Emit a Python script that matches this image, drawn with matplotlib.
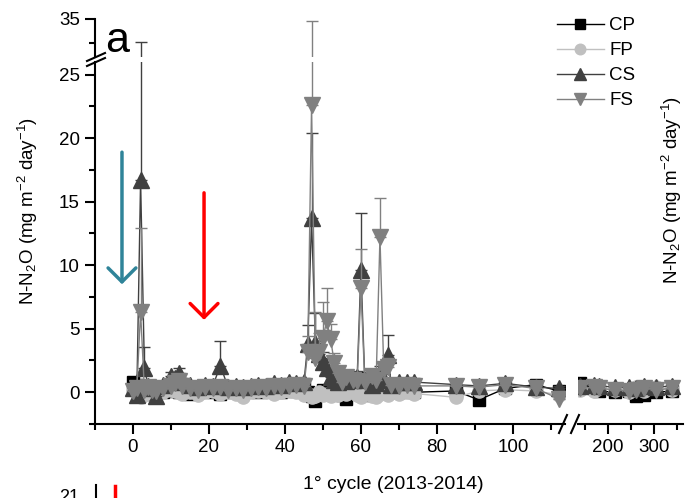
"""
N-N2O flux, 1st cycle (2013-2014): broken x and y axes, four treatments.
"""

import matplotlib

matplotlib.use("Agg")
import matplotlib.pyplot as plt
import numpy as np
from matplotlib.lines import Line2D
from matplotlib.ticker import FixedLocator, MultipleLocator

plt.rcParams["font.family"] = ["Liberation Sans", "DejaVu Sans"]
plt.rcParams["mathtext.fontset"] = "custom"
plt.rcParams["mathtext.rm"] = "Liberation Sans"
plt.rcParams["mathtext.it"] = "Liberation Sans:italic"

# days of the cycle
days = [0, 1, 2, 3, 4, 5, 6, 8, 10, 11,
        12, 13, 15, 17, 19, 21, 23, 25, 27, 29,
        31, 33, 35, 37, 39, 41, 43, 45, 46, 47,
        48, 49, 50, 51, 52, 53, 54, 55, 56, 58,
        59, 60, 61, 63, 64, 65, 66, 67, 68, 70,
        72, 74, 85, 91, 98, 106, 112,
        140, 170, 180, 215, 245, 262, 278, 305, 340]

cp = [0.8, 0.6, 0.2, 0.1, 0.0, -0.1, 0.1, 0.0, 0.2, 0.1,
      0.0, 0.1, -0.1, 0.0, 0.1, 0.0, -0.1, 0.0, 0.1, 0.0,
      0.1, 0.0, 0.2, 0.1, 0.0, 0.2, 0.1, 0.3, 0.0, -0.3,
      -0.7, -0.1, 0.2, 0.0, 0.1, 0.0, 0.2, -0.2, -0.5, 0.3,
      1.1, 0.9, 0.3, -0.2, 0.1, 0.0, 0.2, 0.1, 0.2, 0.0,
      0.1, 0.0, 0.1, -0.6, 0.3, 0.6, 0.1,
      0.7, 0.3, 0.1, 0.0, 0.1, -0.3, -0.2, 0.0, 0.1]
cp_err = [0.2, 0.2, 0.2, 0.1, 0.1, 0.1, 0.1, 0.1, 0.1, 0.1,
          0.1, 0.1, 0.1, 0.1, 0.1, 0.1, 0.1, 0.1, 0.1, 0.1,
          0.1, 0.1, 0.1, 0.1, 0.1, 0.1, 0.1, 0.2, 0.2, 0.2,
          0.2, 0.2, 0.2, 0.2, 0.2, 0.2, 0.2, 0.2, 0.2, 0.2,
          0.3, 0.3, 0.2, 0.2, 0.2, 0.2, 0.2, 0.2, 0.2, 0.2,
          0.2, 0.2, 0.2, 0.2, 0.2, 0.2, 0.2,
          0.2, 0.2, 0.2, 0.2, 0.2, 0.2, 0.2, 0.2, 0.2]

fp = [0.2, 0.0, -0.4, -0.2, 0.0, 0.1, -0.1, 0.0, 0.2, 0.1,
      0.0, -0.1, 0.0, -0.2, 0.0, 0.1, -0.1, 0.0, -0.1, -0.4,
      0.0, 0.1, 0.0, -0.1, 0.0, 0.1, 0.0, -0.2, -0.1, -0.4,
      -0.3, 0.0, -0.2, -0.1, -0.3, 0.0, -0.2, 0.0, -0.1, 0.1,
      -0.2, -0.4, 0.0, -0.3, -0.4, -0.1, 0.0, -0.2, 0.0, -0.1,
      0.0, -0.1, -0.4, 0.1, 0.2, 0.1, -0.2,
      0.2, 0.1, 0.3, 0.2, 0.0, 0.4, 0.1, 0.4, 0.2]
fp_err = [0.1] * 57 + [0.2] * 9

cs = [0.3, -0.2, 16.7, 1.9, 0.5, 0.3, -0.3, 0.6, 1.3, 1.1,
      1.5, 0.8, 0.6, 0.4, 0.6, 0.5, 2.1, 0.4, 0.5, 0.4,
      0.5, 0.6, 0.5, 0.7, 0.6, 0.8, 0.7, 0.8, 3.8, 13.7,
      3.9, 3.0, 2.4, 1.9, 1.2, 1.0, 0.8, 1.2, 0.9, 1.0,
      1.2, 9.6, 1.0, 0.6, 0.7, 1.6, 1.0, 2.9, 0.6, 0.8,
      0.8, 0.8, 0.6, 0.5, 0.7, 0.4, 0.3,
      0.5, 0.6, 0.5, 0.4, 0.4, 0.3, 0.5, 0.4, 0.5]
cs_err = [0.2, 0.2, 13.5, 1.7, 0.2, 0.2, 0.2, 0.2, 0.3, 0.3,
          0.4, 0.3, 0.2, 0.2, 0.2, 0.2, 1.9, 0.2, 0.2, 0.2,
          0.2, 0.2, 0.2, 0.2, 0.2, 0.3, 0.3, 0.3, 1.5, 6.7,
          2.3, 1.0, 0.8, 0.8, 0.5, 0.4, 0.4, 0.5, 0.4, 0.4,
          0.5, 4.5, 0.4, 0.3, 0.3, 0.5, 0.4, 1.6, 0.3, 0.3,
          0.3, 0.3, 0.3, 0.2, 0.3, 0.2, 0.2,
          0.2, 0.2, 0.2, 0.2, 0.2, 0.2, 0.2, 0.2, 0.2]

fs = [0.1, 0.3, 6.3, 0.2, 0.4, 0.2, 0.1, 0.3, 0.5, 0.7,
      0.9, 0.5, 0.3, 0.2, 0.4, 0.3, 0.4, 0.2, 0.3, 0.2,
      0.3, 0.4, 0.3, 0.5, 0.4, 0.5, 0.6, 0.5, 3.2, 22.6,
      2.7, 3.2, 4.3, 5.6, 4.2, 2.3, 1.5, 0.8, 1.2, 1.0,
      0.9, 8.2, 0.8, 1.3, 1.0, 12.2, 1.8, 2.0, 0.6, 0.5,
      0.6, 0.5, 0.5, 0.4, 0.6, 0.3, -0.5,
      0.3, 0.4, 0.3, 0.2, 0.1, 0.2, 0.3, 0.2, 0.3]
fs_err = [0.2, 0.2, 6.6, 0.2, 0.2, 0.2, 0.2, 0.2, 0.3, 0.3,
          0.4, 0.3, 0.2, 0.2, 0.2, 0.2, 0.2, 0.2, 0.2, 0.2,
          0.2, 0.2, 0.2, 0.2, 0.2, 0.2, 0.2, 0.3, 1.2, 11.9,
          3.6, 1.5, 2.8, 2.6, 1.2, 0.8, 0.6, 0.4, 0.4, 0.4,
          0.4, 3.1, 0.4, 0.5, 0.4, 3.1, 0.6, 0.7, 0.3, 0.3,
          0.3, 0.3, 0.3, 0.2, 0.3, 0.2, 0.3,
          0.2, 0.2, 0.2, 0.2, 0.2, 0.2, 0.2, 0.2, 0.2]

series = [
    ("CP", cp, cp_err, "#000000", "s", 8.5),
    ("FP", fp, fp_err, "#c0c0c0", "o", 9.5),
    ("CS", cs, cs_err, "#404040", "^", 11),
    ("FS", fs, fs_err, "#808080", "v", 11),
]

W, H = 687, 498
fig = plt.figure(figsize=(W / 100, H / 100), dpi=100)


def fbox(x0, y_top, x1, y_bot):
    # pixel box -> figure fraction rect
    return [x0 / W, 1 - y_bot / H, (x1 - x0) / W, (y_bot - y_top) / H]


ax_lo = fig.add_axes(fbox(95, 62, 565, 424))
ax_hi = fig.add_axes(fbox(95, 19, 565, 57))
ax_rt = fig.add_axes(fbox(578, 62, 683, 424))

x = np.array(days, dtype=float)
handles = []
for ax in (ax_lo, ax_hi, ax_rt):
    for i, (name, vals, err, col, mk, ms) in enumerate(series):
        y = np.array(vals)
        e = np.array(err)
        ax.errorbar(x, y, yerr=[np.zeros_like(e), e], fmt="none", ecolor=col,
                    elinewidth=1.0, capsize=4.5, capthick=1.0, zorder=2 + i)
        (ln,) = ax.plot(x, y, color=col, lw=1.0, marker=mk, ms=ms,
                        mec=col, mfc=col, zorder=2.5 + i, label=name)
        if ax is ax_lo:
            handles.append(ln)

ax_lo.set_xlim(-10, 113.7)
ax_hi.set_xlim(-10, 113.7)
ax_rt.set_xlim(135, 363)
ax_lo.set_ylim(-2.5, 26.0)
ax_rt.set_ylim(-2.5, 26.0)
ax_hi.set_ylim(27.1, 35)

for ax in (ax_lo, ax_hi, ax_rt):
    for s in ("top", "right"):
        ax.spines[s].set_visible(False)
    for s in ("left", "bottom"):
        ax.spines[s].set_linewidth(1.5)
    ax.tick_params(which="major", direction="out", length=7, width=1.5,
                   labelsize=13.5, pad=4)
    ax.tick_params(which="minor", direction="out", length=4, width=1.5)

ax_lo.xaxis.set_major_locator(FixedLocator([0, 20, 40, 60, 80, 100]))
ax_lo.xaxis.set_minor_locator(FixedLocator([-10, 10, 30, 50, 70, 90, 110]))
ax_lo.yaxis.set_major_locator(MultipleLocator(5))
ax_lo.yaxis.set_minor_locator(FixedLocator([-2.5, 2.5, 7.5, 12.5, 17.5, 22.5]))

ax_hi.spines["bottom"].set_visible(False)
ax_hi.tick_params(axis="x", which="both", bottom=False, labelbottom=False)
ax_hi.yaxis.set_major_locator(FixedLocator([35]))
ax_hi.yaxis.set_minor_locator(FixedLocator([30]))

ax_rt.spines["left"].set_visible(False)
ax_rt.tick_params(axis="y", which="both", left=False, labelleft=False)
ax_rt.xaxis.set_major_locator(FixedLocator([200, 300]))
ax_rt.xaxis.set_minor_locator(FixedLocator([150, 250, 350]))

# break marks
def slash(cx, cy, dx, dy):
    fig.add_artist(Line2D([(cx - dx) / W, (cx + dx) / W],
                          [1 - (cy + dy) / H, 1 - (cy - dy) / H],
                          color="black", lw=1.5))


slash(96, 62, 9, 4)
slash(96, 57, 9, 4)
slash(563, 424, 4, 9)
slash(575, 424, 4, 9)

# fertilisation arrows
ax_lo.annotate("", xy=(-2.9, 8.5), xytext=(-2.9, 18.9),
               arrowprops=dict(arrowstyle="->,head_length=1.0,head_width=1.0",
                               color="#2f8499", lw=2.5, mutation_scale=10,
                               shrinkA=0, shrinkB=0))
ax_lo.annotate("", xy=(18.7, 5.7), xytext=(18.7, 15.7),
               arrowprops=dict(arrowstyle="->,head_length=1.0,head_width=1.0",
                               color="#ff0000", lw=2.5, mutation_scale=10,
                               shrinkA=0, shrinkB=0))

fig.legend(handles, [h.get_label() for h in handles], loc="upper left",
           bbox_to_anchor=(557 / W, 1 - 17 / H), frameon=False, fontsize=13.5,
           handlelength=2.5, handletextpad=0.3, labelspacing=0.42,
           borderpad=0, borderaxespad=0, markerscale=0.8)

ylab = "N-N$_2$O (mg m$^{-2}$ day$^{-1}$)"
fig.text(28 / W, 1 - 211 / H, ylab, rotation=90, fontsize=13.5,
         ha="center", va="center")
fig.text(672 / W, 1 - 190 / H, ylab, rotation=90, fontsize=13.5,
         ha="center", va="center")
fig.text(393 / W, 1 - 484 / H, "1° cycle (2013-2014)", fontsize=14,
         ha="center", va="center")
fig.text(105 / W, 1 - 52 / H, "a", fontsize=31, ha="left", va="baseline")

# top of the next panel, cut by the image edge
fig.text(79 / W, 1 - 489 / H, "21", fontsize=13, ha="right", va="top")
fig.add_artist(Line2D([95.5 / W, 95.5 / W], [1 - 485 / H, 0], color="black", lw=1.5))
fig.add_artist(Line2D([115 / W, 115 / W], [1 - 486 / H, 0], color="#ff0000", lw=2.5))

fig.savefig("out.png", dpi=100)
